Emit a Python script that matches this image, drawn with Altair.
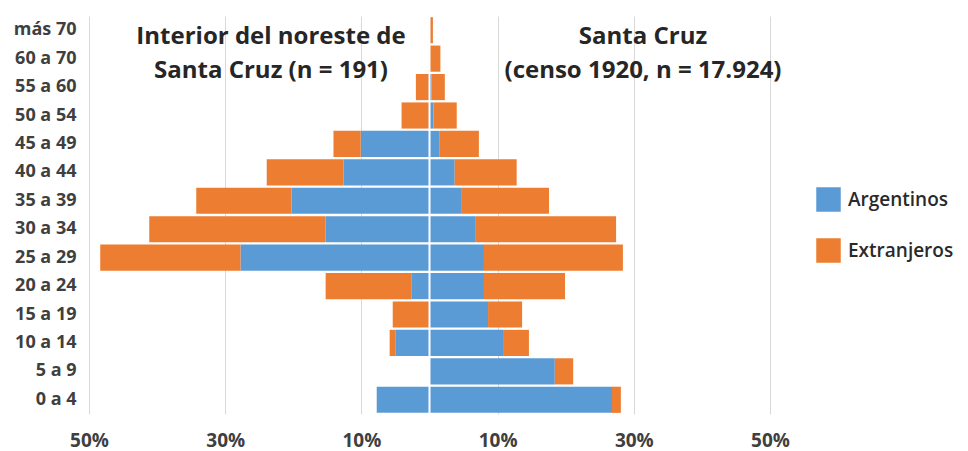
import altair as alt
import pandas as pd

grupos = ["más 70", "60 a 70", "55 a 60", "50 a 54", "45 a 49", "40 a 44", "35 a 39",
          "30 a 34", "25 a 29", "20 a 24", "15 a 19", "10 a 14", "5 a 9", "0 a 4"]
# Interior del noreste de Santa Cruz (n = 191), % (drawn to the left)
interior_arg = [0, 0, 0, 0, 10.1, 12.6, 20.25, 15.25, 27.75, 2.6, 0, 4.95, 0, 7.75]
interior_ext = [0, 0, 2.0, 4.1, 4.0, 11.3, 14.0, 25.9, 20.6, 12.65, 5.4, 0.9, 0, 0]
# Santa Cruz, censo 1920 (n = 17.924), % (drawn to the right)
censo_arg = [0, 0, 0.3, 0.6, 1.5, 3.7, 4.75, 6.8, 8.0, 8.0, 8.6, 10.8, 18.4, 26.8]
censo_ext = [0.5, 1.6, 1.95, 3.4, 5.75, 9.1, 12.8, 20.6, 20.4, 11.9, 5.0, 3.8, 2.7, 1.3]

origenes = ["Argentinos", "Extranjeros"]
colores = ["#5B9BD5", "#ED7D31"]
ticks_x = [-50, -30, -10, 10, 30, 50]

rows = []
for i, g in enumerate(grupos):
    rows.append({"grupo": g, "origen": "Argentinos", "orden": 0, "valor": -interior_arg[i]})
    rows.append({"grupo": g, "origen": "Extranjeros", "orden": 1, "valor": -interior_ext[i]})
    rows.append({"grupo": g, "origen": "Argentinos", "orden": 0, "valor": censo_arg[i]})
    rows.append({"grupo": g, "origen": "Extranjeros", "orden": 1, "valor": censo_ext[i]})
df = pd.DataFrame(rows)

FONT = "Open Sans"
TXT = "#3F3F3F"

bars = alt.Chart(df).mark_bar().encode(
    x=alt.X("valor:Q", stack="zero",
            scale=alt.Scale(domain=[-50, 50], nice=False, zero=False),
            axis=alt.Axis(title=None, values=ticks_x, labelExpr="abs(datum.value) + '%'",
                          grid=True, gridColor="#D9D9D9", gridWidth=1, domain=False,
                          ticks=False, labelPadding=17, labelFont=FONT, labelFontSize=19,
                          labelFontWeight="bold", labelColor=TXT, labelFlush=False)),
    y=alt.Y("grupo:N", sort=grupos,
            scale=alt.Scale(paddingInner=0.08, paddingOuter=0.04),
            axis=alt.Axis(title=None, domain=False, ticks=False, labelPadding=13,
                          labelFont=FONT, labelFontSize=18, labelFontWeight="bold",
                          labelColor=TXT)),
    color=alt.Color("origen:N", scale=alt.Scale(domain=origenes, range=colores),
                    legend=alt.Legend(title=None, orient="none", legendX=727, legendY=171,
                                      symbolType="square", symbolSize=600,
                                      symbolStrokeWidth=0, labelFont=FONT,
                                      labelFontSize=19, labelFontWeight=600,
                                      labelColor="#2A2A2A", labelLimit=200,
                                      labelOffset=7, rowPadding=26)),
    order=alt.Order("orden:Q"),
)

centro = alt.Chart(pd.DataFrame({"x": [0]})).mark_rule(color="white", strokeWidth=2).encode(
    x="x:Q")

titulos = [
    ("Interior del noreste de", 182, 28),
    ("Santa Cruz (n = 191)", 182, 62),
    ("Santa Cruz", 554, 28),
    ("(censo 1920, n = 17.924)", 554, 62),
]
capas = [bars, centro]
for texto, px, py in titulos:
    capas.append(
        alt.Chart(pd.DataFrame({"t": [texto]})).mark_text(
            font=FONT, fontSize=24, fontWeight="bold", color="#262626",
            align="center", baseline="alphabetic").encode(
            text="t:N", x=alt.value(px), y=alt.value(py)))

chart = alt.layer(*capas).properties(
    width=681, height=398,
    autosize=alt.AutoSizeParams(type="none"),
    padding={"left": 81, "top": 8, "right": 190, "bottom": 37},
).configure_view(stroke=None)

chart.save("out.html", embed_options={"renderer": "svg", "actions": False})
